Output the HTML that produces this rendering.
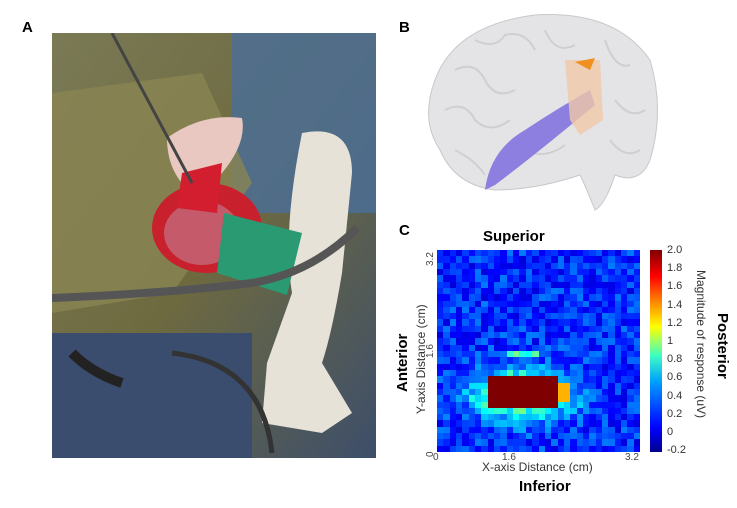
<!DOCTYPE html>
<html><head><meta charset="utf-8"><style>
body{margin:0;width:737px;height:508px;background:#fff;overflow:hidden;position:relative;font-family:"Liberation Sans",sans-serif}
.t{position:absolute;white-space:nowrap}
#hm{position:absolute;left:437px;top:250px;width:203px;height:202px;display:grid;grid-template-columns:repeat(32,1fr);grid-template-rows:repeat(32,1fr)}
</style></head><body>
<div class="t" style="left:22px;top:19px;font-weight:bold;font-size:15px">A</div>
<div class="t" style="left:399px;top:19px;font-weight:bold;font-size:15px">B</div>
<div class="t" style="left:399px;top:222px;font-weight:bold;font-size:15px">C</div>
<svg style="position:absolute;left:52px;top:33px" width="324" height="425">
<defs><linearGradient id="bg" x1="0" y1="0" x2="1" y2="1"><stop offset="0" stop-color="#7a7a55"/><stop offset=".5" stop-color="#6e6a40"/><stop offset="1" stop-color="#3d4e6a"/></linearGradient></defs>
<rect width="324" height="425" fill="url(#bg)"/>
<rect x="180" y="0" width="144" height="180" fill="#4a6e98" opacity=".8"/>
<rect x="0" y="300" width="200" height="125" fill="#3b4d6e"/>
<path d="M0 60 L150 40 L200 150 L120 260 L0 280Z" fill="#8a8452" opacity=".8"/>
<path d="M250 100 Q300 90 300 140 L290 240 Q280 300 270 330 L300 380 L270 400 L210 390 L215 330 L240 260 Q230 200 250 100Z" fill="#e7e2d8"/>
<ellipse cx="155" cy="195" rx="55" ry="45" fill="#c8202c"/>
<ellipse cx="150" cy="200" rx="38" ry="32" fill="#c45a6a"/>
<path d="M115 105 Q150 80 190 85 Q195 110 170 140 L140 160 Q115 140 115 105Z" fill="#e8c8c0"/>
<path d="M130 140 L170 130 L165 180 L125 175Z" fill="#d21e2e"/>
<path d="M172 180 L250 200 L235 262 L165 240Z" fill="#2a9a72"/>
<path d="M0 265 Q120 260 200 250 Q260 240 305 195" stroke="#555" stroke-width="8" fill="none"/>
<path d="M60 0 L140 150" stroke="#444" stroke-width="3"/>
<path d="M20 320 Q40 340 70 350" stroke="#222" stroke-width="10" fill="none"/>
<path d="M120 320 Q210 330 220 420" stroke="#333" stroke-width="5" fill="none"/>
</svg>
<svg style="position:absolute;left:415px;top:10px" width="250" height="210">
<path d="M20 70 Q40 15 120 5 Q200 0 235 50 Q250 100 235 150 Q225 175 200 165 Q190 195 180 200 Q170 175 165 165 Q120 180 80 180 Q40 175 25 140 Q5 110 20 70Z" fill="#e4e4e6" stroke="#c8c8cc"/>
<g stroke="#cfcfd3" stroke-width="2" fill="none">
<path d="M40 60 Q60 50 70 70 Q80 90 100 80"/><path d="M30 100 Q50 90 60 110 Q75 125 95 110"/><path d="M60 30 Q80 40 90 25 Q110 20 120 40"/><path d="M130 20 Q140 45 160 35"/><path d="M190 30 Q200 60 215 55"/><path d="M200 90 Q215 110 230 100"/><path d="M195 130 Q210 150 225 140"/><path d="M110 140 Q130 150 150 135"/><path d="M40 140 Q60 150 70 165"/>
</g>
<path d="M70 180 Q75 140 110 120 Q140 100 175 80 L180 95 Q150 120 125 140 Q100 160 80 175Z" fill="#8c7fe0"/>
<path d="M150 50 L185 50 L188 110 L165 125 L155 110Z" fill="#f0c8a8" opacity=".8"/>
<path d="M160 52 L180 48 L175 60Z" fill="#f09020"/>
</svg>
<div class="t" style="left:483px;top:228px;font-weight:bold;font-size:15px">Superior</div>
<div class="t" style="left:519px;top:478px;font-weight:bold;font-size:15px">Inferior</div>
<div class="t" style="left:394px;top:392px;transform:rotate(-90deg);transform-origin:0 0;font-weight:bold;font-size:15px">Anterior</div>
<div class="t" style="left:414px;top:414px;transform:rotate(-90deg);transform-origin:0 0;font-size:12px;color:#333">Y-axis Distance (cm)</div>
<div class="t" style="left:482px;top:460px;font-size:12px;color:#333">X-axis Distance (cm)</div>
<div class="t" style="left:731px;top:313px;transform:rotate(90deg);transform-origin:0 0;font-weight:bold;font-size:15px">Posterior</div>
<div class="t" style="left:708px;top:270px;transform:rotate(90deg);transform-origin:0 0;font-size:12px;color:#333">Magnitude of response (uV)</div>
<div class="t" style="left:433px;top:452px;font-size:10px;color:#444">0</div>
<div class="t" style="left:502px;top:452px;font-size:10px;color:#444">1.6</div>
<div class="t" style="left:625px;top:452px;font-size:10px;color:#444">3.2</div>
<div class="t" style="left:425px;top:457px;font-size:10px;color:#444;transform:rotate(-90deg);transform-origin:0 0">0</div>
<div class="t" style="left:425px;top:358px;font-size:10px;color:#444;transform:rotate(-90deg);transform-origin:0 0">1.6</div>
<div class="t" style="left:425px;top:266px;font-size:10px;color:#444;transform:rotate(-90deg);transform-origin:0 0">3.2</div>
<div id="hm"></div>
<div style="position:absolute;left:650px;top:250px;width:12px;height:202px;background:linear-gradient(to top,#00008f,#0000ff 12%,#00a0ff 35%,#40ffc0 48%,#ffff00 62%,#ff8000 75%,#ff0000 87%,#800000)"></div>
<div id="cb"></div>
<script>
var h=document.getElementById('hm'),s=7;function r(){s=(s*9301+49297)%233280;return s/233280}
function col(v){v=Math.max(0,Math.min(1,v));var R,G,B;
R=Math.min(Math.max(1.5-Math.abs(4*v-3),0),1);G=Math.min(Math.max(1.5-Math.abs(4*v-2),0),1);B=Math.min(Math.max(1.5-Math.abs(4*v-1),0),1);
return 'rgb('+(R*255|0)+','+(G*255|0)+','+(B*255|0)+')'}
for(var y=0;y<32;y++)for(var x=0;x<32;x++){var v=0.09+r()*0.16;
var dx=(x-13)/6,dy=(y-22.5)/3;var d=dx*dx+dy*dy;
if(x>=8&&x<=18&&y>=20&&y<=24)v=1;else v+=0.5*Math.exp(-d*0.7)*(0.7+r()*0.5);
if(x>=17&&x<=20&&y>=21&&y<=23&&v<1)v=Math.max(v,0.7);
if(y==16&&x>=11&&x<=15)v=Math.max(v,0.35+r()*0.15);
var c=document.createElement('div');c.style.background=col(v);h.appendChild(c)}
var cb=document.getElementById('cb'),L=['2.0','1.8','1.6','1.4','1.2','1','0.8','0.6','0.4','0.2','0','-0.2'];
for(var i=0;i<12;i++){var d=document.createElement('div');d.className='t';d.style.cssText='left:667px;font-size:11px;color:#333;top:'+(244+i*18.2)+'px';d.textContent=L[i];cb.appendChild(d)}
</script>
</body></html>
